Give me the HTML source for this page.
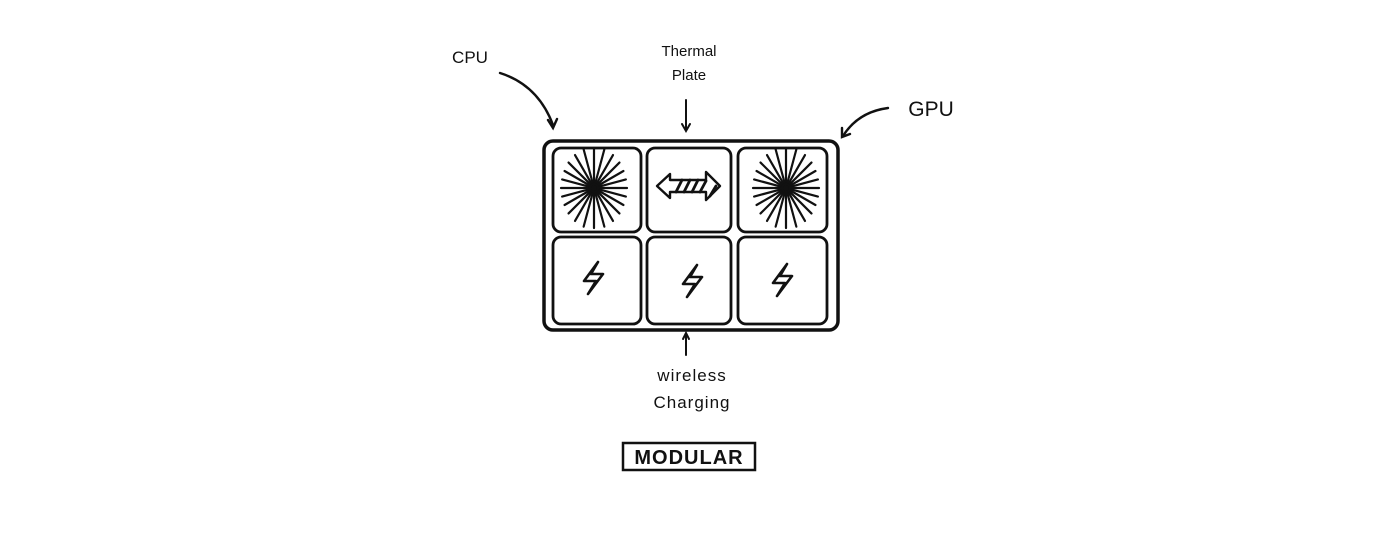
<!DOCTYPE html>
<html><head><style>
html,body{margin:0;padding:0;background:#fff;width:1400px;height:535px;overflow:hidden}
text{font-family:"Liberation Sans",sans-serif;fill:#111}
</style></head><body>
<svg width="1400" height="535" viewBox="0 0 1400 535" xmlns="http://www.w3.org/2000/svg">
<defs>
<g id="burst" stroke="#111" stroke-width="2.2" stroke-linecap="round">
<line x1="0" y1="-40" x2="0" y2="40"/>
<line x1="0" y1="-40" x2="0" y2="40" transform="rotate(15)"/>
<line x1="0" y1="-38" x2="0" y2="38" transform="rotate(30)"/>
<line x1="0" y1="-36" x2="0" y2="36" transform="rotate(45)"/>
<line x1="0" y1="-34" x2="0" y2="34" transform="rotate(60)"/>
<line x1="0" y1="-33" x2="0" y2="33" transform="rotate(75)"/>
<line x1="0" y1="-33" x2="0" y2="33" transform="rotate(90)"/>
<line x1="0" y1="-33" x2="0" y2="33" transform="rotate(105)"/>
<line x1="0" y1="-34" x2="0" y2="34" transform="rotate(120)"/>
<line x1="0" y1="-36" x2="0" y2="36" transform="rotate(135)"/>
<line x1="0" y1="-38" x2="0" y2="38" transform="rotate(150)"/>
<line x1="0" y1="-40" x2="0" y2="40" transform="rotate(165)"/>
<circle cx="0" cy="0" r="4" fill="#111"/>
</g>
<path id="bolt" d="M5,-16 L-9,3 L3,3 L-5,16 L10,-4 L-2,-4 Z" fill="none" stroke="#111" stroke-width="2.6" stroke-linejoin="round"/>
</defs>
<g fill="none" stroke="#111" stroke-linecap="round">
<rect x="544" y="141" width="294" height="189" rx="9" stroke-width="3.5"/>
<rect x="553" y="148" width="88" height="84" rx="8" stroke-width="2.8"/>
<rect x="647" y="148" width="84" height="84" rx="8" stroke-width="2.8"/>
<rect x="738" y="148" width="89" height="84" rx="8" stroke-width="2.8"/>
<rect x="553" y="237" width="88" height="87" rx="8" stroke-width="2.8"/>
<rect x="647" y="237" width="84" height="87" rx="8" stroke-width="2.8"/>
<rect x="738" y="237" width="89" height="87" rx="8" stroke-width="2.8"/>
<path d="M657,186 L670,174 L670,180 L706,180 L706,172 L720,186 L706,200 L706,192 L670,192 L670,198 Z" stroke-width="2.4" stroke-linejoin="round"/>
<path d="M676,192 L682,180 M684,192 L690,180 M692,192 L698,180 M700,192 L706,181 M710,196 L716,186" stroke-width="2.8"/>
<path d="M500,73 Q538,85 553,125" stroke-width="2.4"/>
<path d="M548,120 L553,128 L557,119" stroke-width="2.4"/>
<path d="M686,100 L686,130" stroke-width="2"/>
<path d="M682,124 L686,131 L690,124" stroke-width="2"/>
<path d="M888,108 Q858,112 843,136" stroke-width="2.4"/>
<path d="M842,128 L842,137 L850,134" stroke-width="2.4"/>
<path d="M686,355 L686,334" stroke-width="2"/>
<path d="M683,339 L686,333 L689,339" stroke-width="2"/>
<rect x="623" y="443" width="132" height="27" stroke-width="2.5"/>
</g>
<use href="#burst" x="594" y="188"/>
<use href="#burst" x="786" y="188"/>
<use href="#bolt" x="593" y="278"/>
<use href="#bolt" x="692" y="281"/>
<use href="#bolt" x="782" y="280"/>
<text x="470" y="63" font-size="17" text-anchor="middle">CPU</text>
<text x="689" y="56" font-size="15" text-anchor="middle">Thermal</text>
<text x="689" y="80" font-size="15" text-anchor="middle">Plate</text>
<text x="931" y="116" font-size="21" text-anchor="middle">GPU</text>
<text x="692" y="381" font-size="17" text-anchor="middle" letter-spacing="1">wireless</text>
<text x="692" y="408" font-size="17" text-anchor="middle" letter-spacing="1">Charging</text>
<text x="689" y="464" font-size="20" font-weight="bold" text-anchor="middle" letter-spacing="1">MODULAR</text>
</svg>
</body></html>
